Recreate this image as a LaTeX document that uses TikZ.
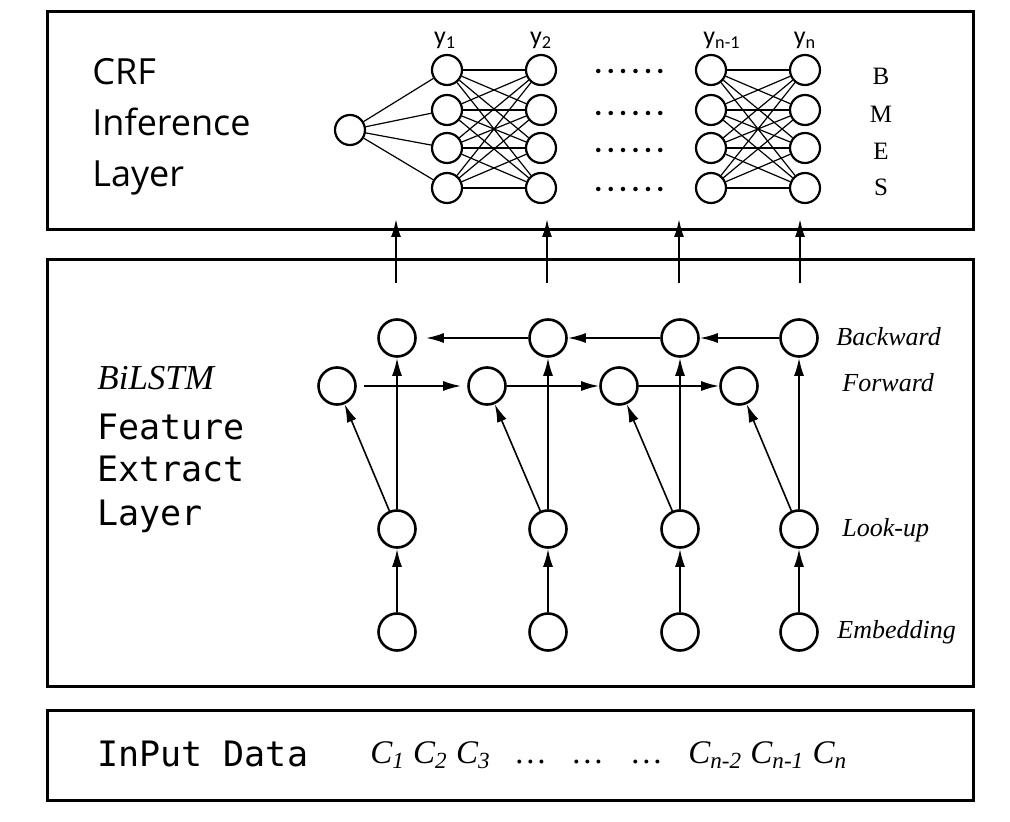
\documentclass[tikz,border=0pt]{standalone}
\usepackage{fontspec}
\setmainfont{Liberation Serif}
\newfontfamily\crffont{Open Sans}
\newfontfamily\codefont{DejaVu Sans Mono}
\newfontfamily\labfont{Carlito}
\usetikzlibrary{arrows.meta}
\newcommand\crfdots{.\kern2.2pt.\kern2.2pt.\kern2.2pt.\kern2.2pt.\kern2.2pt.}
\begin{document}
\begin{tikzpicture}[x=0.5pt,y=-0.5pt,
  layerbox/.style={draw,line width=1.5pt},
  crfnode/.style={circle,draw,line width=1.1pt,minimum size=15pt,inner sep=0pt},
  lstmnode/.style={circle,draw,line width=1.3pt,minimum size=18.5pt,inner sep=0pt},
  crfedge/.style={line width=0.6pt},
  arr/.style={-{Latex[length=9pt,width=5pt]},line width=1pt},
  darr/.style={-{Latex[length=9pt,width=5pt]},line width=0.8pt},
  txt/.style={inner sep=0pt},
  crftext/.style={txt,anchor=base west,font=\crffont\fontsize{18}{22}\selectfont},
  codetext/.style={txt,anchor=base west,font=\codefont\fontsize{17.5}{21}\selectfont},
  ylab/.style={txt,anchor=base,font=\labfont\fontsize{13}{15}\selectfont},
  dotlab/.style={txt,anchor=base west,font=\labfont\bfseries\fontsize{15}{17}\selectfont},
  tag/.style={txt,anchor=base,font=\fontsize{12.5}{15}\selectfont},
  rowlab/.style={txt,anchor=base west,font=\itshape\fontsize{13}{16}\selectfont},
  ctext/.style={txt,anchor=base west,font=\itshape\fontsize{16.5}{19}\selectfont}
]
\useasboundingbox (0,0) rectangle (1010,822);

% layer boxes
\draw[layerbox] (47,12) rectangle (973,230);
\draw[layerbox] (47,260) rectangle (973,686);
\draw[layerbox] (47,710) rectangle (973,800);

% ---------------- CRF layer ----------------
\node[crftext] (crf1) at (92,85) {CRF};
\node[crftext] (crf2) at (92,136) {Inference};
\node[crftext] (crf3) at (92,187) {Layer};

\node[crfnode] (s) at (350,130) {};
\foreach \i/\y in {1/70,2/110,3/148,4/188} {
  \node[crfnode] (ya\i) at (447,\y) {};
  \node[crfnode] (yb\i) at (541,\y) {};
  \node[crfnode] (yc\i) at (711,\y) {};
  \node[crfnode] (yd\i) at (805,\y) {};
}
\foreach \i in {1,...,4} {
  \draw[crfedge] (s) -- (ya\i);
  \foreach \j in {1,...,4} {
    \draw[crfedge] (ya\i) -- (yb\j);
    \draw[crfedge] (yc\i) -- (yd\j);
  }
}
\node[ylab] (l1) at (445,45) {y\textsubscript{1}};
\node[ylab] (l2) at (541,45) {y\textsubscript{2}};
\node[ylab] (l3) at (722,45) {y\textsubscript{n-1}};
\node[ylab] (l4) at (805,45) {y\textsubscript{n}};

\node[dotlab] (d1) at (594,74) {\crfdots};
\node[dotlab] (d2) at (594,116) {\crfdots};
\node[dotlab] (d3) at (594,153) {\crfdots};
\node[dotlab] (d4) at (594,192) {\crfdots};

\node[tag] (tB) at (881,85) {B};
\node[tag] (tM) at (881,123) {M};
\node[tag] (tE) at (881,160) {E};
\node[tag] (tS) at (881,196) {S};

% arrows from BiLSTM layer to CRF layer
\foreach \k/\x in {1/396,2/547,3/679,4/800} {
  \coordinate (us\k) at (\x,283);
  \coordinate (ue\k) at (\x,219);
  \draw[arr] (us\k) -- (ue\k);
}

% ---------------- BiLSTM layer ----------------
\node[txt,anchor=base west,font=\itshape\fontsize{17.5}{21}\selectfont] (bil) at (97,390) {BiLSTM};
\node[codetext] (fe1) at (97,440) {Feature};
\node[codetext] (fe2) at (97,482) {Extract};
\node[codetext] (fe3) at (97,525) {Layer};

\foreach \k/\x/\fx in {1/397/337,2/548/487,3/680/619,4/799/739} {
  \node[lstmnode] (bw\k) at (\x,338) {};
  \node[lstmnode] (fw\k) at (\fx,386) {};
  \node[lstmnode] (lu\k) at (\x,529) {};
  \node[lstmnode] (em\k) at (\x,632) {};
}
\foreach \k in {1,...,4} {
  \draw[arr] (em\k) -- (lu\k);
  \draw[arr] (lu\k) -- (bw\k);
  \draw[darr] (lu\k) -- (fw\k);
}
\draw[arr,shorten <=3.5pt,shorten >=3pt] (fw1) -- (fw2);
\draw[arr] (fw2) -- (fw3);
\draw[arr] (fw3) -- (fw4);
\draw[arr,shorten >=4.5pt] (bw2) -- (bw1);
\draw[arr] (bw3) -- (bw2);
\draw[arr] (bw4) -- (bw3);

\node[rowlab] (rb) at (836,346) {Backward};
\node[rowlab] (rf) at (842,392) {Forward};
\node[rowlab] (rl) at (842,537) {Look-up};
\node[rowlab] (re) at (837,638) {Embedding};

% ---------------- Input layer ----------------
\node[codetext] (inp) at (97,766) {InPut Data};
\node[ctext] (cl) at (370,763) {C\textsubscript{1} C\textsubscript{2} C\textsubscript{3}};
\node[ctext] (e1) at (516,763) {…};
\node[ctext] (e2) at (573,763) {…};
\node[ctext] (e3) at (632,763) {…};
\node[ctext] (cr) at (688,763) {C\textsubscript{n-2} C\textsubscript{n-1} C\textsubscript{n}};
\end{tikzpicture}
\end{document}
